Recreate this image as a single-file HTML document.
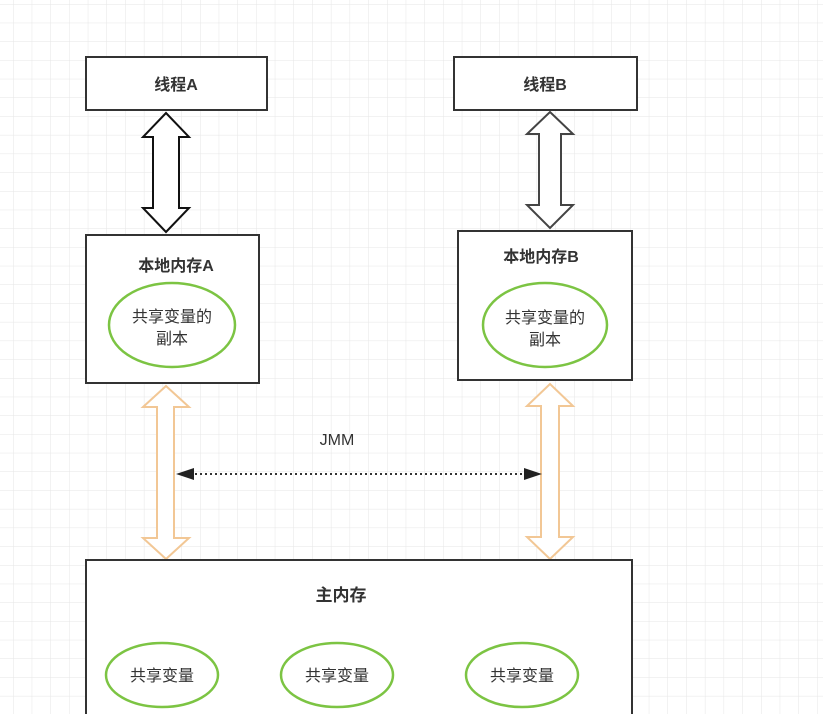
<!DOCTYPE html>
<html><head><meta charset="utf-8"><style>
html,body{margin:0;padding:0;background:#fff;}
svg{display:block;}
text{font-family:"Liberation Sans","Noto Sans CJK SC",sans-serif;}
</style></head><body>
<svg width="823" height="714" viewBox="0 0 823 714" xmlns="http://www.w3.org/2000/svg">
<defs>
<pattern id="g" x="13" y="4" width="18.7" height="18.7" patternUnits="userSpaceOnUse">
<path d="M0 0H18.7M0 0V18.7" stroke="#e6e6e6" stroke-width="1" fill="none"/>
</pattern>
</defs>
<rect width="823" height="714" fill="#fff"/>
<rect width="823" height="714" fill="url(#g)"/>

<rect x="86" y="57" width="181" height="53" fill="#fff" stroke="#333" stroke-width="2"/>
<text x="176" y="90" font-size="16" font-weight="bold" fill="#333" text-anchor="middle">线程A</text>
<rect x="454" y="57" width="183" height="53" fill="#fff" stroke="#333" stroke-width="2"/>
<text x="545" y="90" font-size="16" font-weight="bold" fill="#333" text-anchor="middle">线程B</text>

<polygon points="166,113 189,137 179,137 179,208 189,208 166,232 143,208 153,208 153,137 143,137" fill="#fff" stroke="#111" stroke-width="2"/>
<polygon points="550,112 573,134 561,134 561,205 573,205 550,228 527,205 539,205 539,134 527,134" fill="#fff" stroke="#444" stroke-width="2"/>

<rect x="86" y="235" width="173" height="148" fill="#fff" stroke="#333" stroke-width="2"/>
<text x="176" y="271" font-size="16" font-weight="bold" fill="#333" text-anchor="middle">本地内存A</text>
<ellipse cx="172" cy="325" rx="63" ry="42" fill="#fff" stroke="#7cc443" stroke-width="2.5"/>
<text x="172" y="322" font-size="16" fill="#333" text-anchor="middle">共享变量的</text>
<text x="172" y="344" font-size="16" fill="#333" text-anchor="middle">副本</text>

<rect x="458" y="231" width="174" height="149" fill="#fff" stroke="#333" stroke-width="2"/>
<text x="541" y="262" font-size="16" font-weight="bold" fill="#333" text-anchor="middle">本地内存B</text>
<ellipse cx="545" cy="325" rx="62" ry="42" fill="#fff" stroke="#7cc443" stroke-width="2.5"/>
<text x="545" y="323" font-size="16" fill="#333" text-anchor="middle">共享变量的</text>
<text x="545" y="345" font-size="16" fill="#333" text-anchor="middle">副本</text>

<polygon points="166,386 189,407 174,407 174,538 189,538 166,559 143,538 157,538 157,407 143,407" fill="#fff" stroke="#f2c795" stroke-width="2"/>
<polygon points="550,384 573,406 559,406 559,537 573,537 550,559 527,537 541,537 541,406 527,406" fill="#fff" stroke="#f2c795" stroke-width="2"/>

<text x="337" y="445" font-size="16" fill="#333" text-anchor="middle">JMM</text>
<line x1="190" y1="474" x2="528" y2="474" stroke="#333" stroke-width="2" stroke-dasharray="2,3"/>
<polygon points="176,474 194,468 194,480" fill="#222"/>
<polygon points="542,474 524,468 524,480" fill="#222"/>

<rect x="86" y="560" width="546" height="160" fill="#fff" stroke="#333" stroke-width="2"/>
<text x="341" y="601" font-size="17" font-weight="bold" fill="#333" text-anchor="middle">主内存</text>
<ellipse cx="162" cy="675" rx="56" ry="32" fill="#fff" stroke="#7cc443" stroke-width="2.5"/>
<text x="162" y="681" font-size="16" fill="#333" text-anchor="middle">共享变量</text>
<ellipse cx="337" cy="675" rx="56" ry="32" fill="#fff" stroke="#7cc443" stroke-width="2.5"/>
<text x="337" y="681" font-size="16" fill="#333" text-anchor="middle">共享变量</text>
<ellipse cx="522" cy="675" rx="56" ry="32" fill="#fff" stroke="#7cc443" stroke-width="2.5"/>
<text x="522" y="681" font-size="16" fill="#333" text-anchor="middle">共享变量</text>
</svg>
</body></html>
